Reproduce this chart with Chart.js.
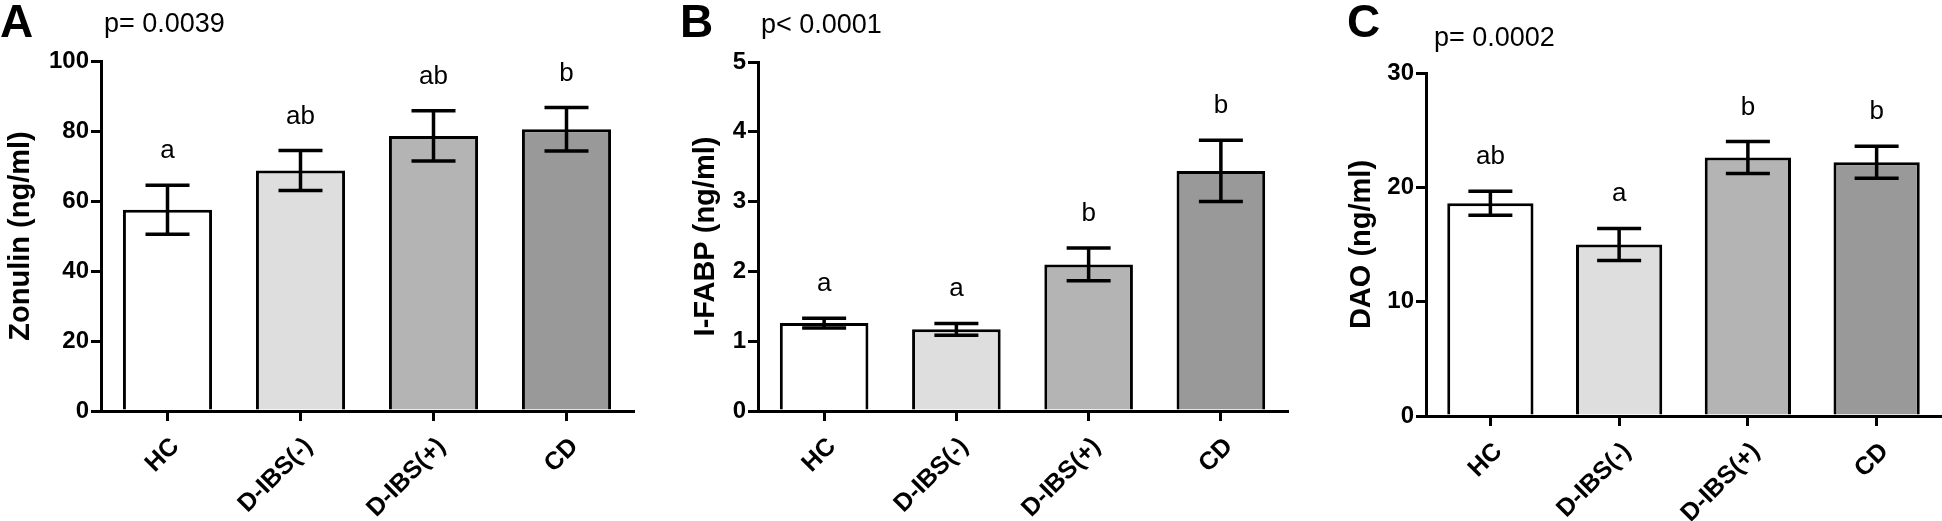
<!DOCTYPE html>
<html>
<head>
<meta charset="utf-8">
<script src="https://cdn.jsdelivr.net/npm/chart.js@4.4.0/dist/chart.umd.min.js"></script>
<style>
  body { margin: 0; background: #fff; }
  #wrap { position: relative; width: 1942px; height: 521px; overflow: hidden; }
  .panel { position: absolute; top: 0; height: 521px; }
</style>
</head>
<body>
<div id="wrap">
  <div class="panel" style="left:0px;width:640px"><canvas id="chartA"></canvas></div>
  <div class="panel" style="left:640px;width:650px"><canvas id="chartB"></canvas></div>
  <div class="panel" style="left:1290px;width:652px"><canvas id="chartC"></canvas></div>
</div>
<script>
var categories = ["HC", "D-IBS(-)", "D-IBS(+)", "CD"];
var barColors = ["#ffffff", "#dedede", "#b4b4b4", "#999999"];

// panel A - zonulin
var zonulinMean = [57.5, 68.7, 78.6, 80.5];
var zonulinSem = [7.0, 5.7, 7.2, 6.2];
var zonulinLetters = ["a", "ab", "ab", "b"];
var zonulinTicks = [0, 20, 40, 60, 80, 100];

// panel B - I-FABP
var ifabpMean = [1.26, 1.17, 2.1, 3.44];
var ifabpSem = [0.07, 0.085, 0.235, 0.44];
var ifabpLetters = ["a", "a", "b", "b"];
var ifabpTicks = [0, 1, 2, 3, 4, 5];

// panel C - DAO
var daoMean = [18.6, 15.0, 22.6, 22.2];
var daoSem = [1.05, 1.4, 1.4, 1.4];
var daoLetters = ["ab", "a", "b", "b"];
var daoTicks = [0, 10, 20, 30];

var FONT = "'Liberation Sans', Arial, sans-serif";

// error bars + group letters + panel letter + p value
var annotPlugin = {
  id: "annot",
  afterDatasetsDraw: function (chart) {
    var o = chart.options.plugins.annot;
    var ctx = chart.ctx;
    var y = chart.scales.y;
    var meta = chart.getDatasetMeta(0);
    ctx.save();
    ctx.strokeStyle = "#000";
    ctx.lineWidth = 3.5;
    ctx.fillStyle = "#000";
    ctx.font = "26px " + FONT;
    ctx.textAlign = "center";
    ctx.textBaseline = "alphabetic";
    meta.data.forEach(function (bar, i) {
      var m = o.mean[i], s = o.sem[i];
      var top = y.getPixelForValue(m + s);
      var bot = y.getPixelForValue(m - s);
      ctx.beginPath();
      ctx.moveTo(bar.x, top);
      ctx.lineTo(bar.x, bot);
      ctx.moveTo(bar.x - 22, top);
      ctx.lineTo(bar.x + 22, top);
      ctx.moveTo(bar.x - 22, bot);
      ctx.lineTo(bar.x + 22, bot);
      ctx.stroke();
      ctx.fillText(o.letters[i], bar.x, top - 27);
    });
    ctx.textAlign = "left";
    ctx.font = "bold 46px " + FONT;
    ctx.fillText(o.panel, o.panelX, 37);
    ctx.font = "27px " + FONT;
    ctx.fillText(o.pText, o.pX, o.pY);
    ctx.restore();
  },
};

function makePanel(id, mean, sem, letters, ticks, yTitle, yWidth, xHeight, pad, panel, panelX, pText, pX, pY) {
  var ctx = document.getElementById(id).getContext("2d");
  return new Chart(ctx, {
    type: "bar",
    data: {
      labels: categories,
      datasets: [
        {
          data: mean,
          backgroundColor: barColors,
          borderColor: "#000",
          borderWidth: 3,
          barPercentage: 0.67,
          categoryPercentage: 1,
        },
      ],
    },
    options: {
      responsive: true,
      maintainAspectRatio: false,
      animation: false,
      layout: { padding: pad },
      plugins: {
        legend: { display: false },
        tooltip: { enabled: false },
        annot: {
          mean: mean, sem: sem, letters: letters,
          panel: panel, panelX: panelX, pText: pText, pX: pX, pY: pY,
        },
      },
      scales: {
        x: {
          offset: true,
          grid: { display: true, drawOnChartArea: false, offset: false, color: "#000", lineWidth: 3, tickLength: 10 },
          border: { display: true, color: "#000", width: 3 },
          ticks: { color: "#000", font: { family: FONT, size: 25, weight: "bold" }, maxRotation: 45, minRotation: 45, autoSkip: false, padding: 11, labelOffset: 8 },
          afterFit: function (s) { s.height = xHeight; },
        },
        y: {
          min: ticks[0],
          max: ticks[ticks.length - 1],
          afterBuildTicks: function (s) { s.ticks = ticks.map(function (v) { return { value: v }; }); },
          grid: { display: true, drawOnChartArea: false, color: "#000", lineWidth: 3, tickLength: 10 },
          border: { display: true, color: "#000", width: 3 },
          ticks: { color: "#000", font: { family: FONT, size: 24, weight: "bold" }, padding: 2 },
          title: { display: true, text: yTitle, color: "#000", font: { family: FONT, size: 29, weight: "bold" } },
          afterFit: function (s) { s.width = yWidth; },
        },
      },
    },
    plugins: [annotPlugin],
  });
}

makePanel("chartA", zonulinMean, zonulinSem, zonulinLetters, zonulinTicks, "Zonulin (ng/ml)",
  101, 110, { left: 0, right: 7, top: 61, bottom: 0 }, "A", 0, "p= 0.0039", 104, 32);
makePanel("chartB", ifabpMean, ifabpSem, ifabpLetters, ifabpTicks, "I-FABP (ng/ml)",
  73, 110, { left: 45, right: 3, top: 62, bottom: 0 }, "B", 40, "p< 0.0001", 121, 33);
makePanel("chartC", daoMean, daoSem, daoLetters, daoTicks, "DAO (ng/ml)",
  85, 105, { left: 51, right: 1, top: 73, bottom: 0 }, "C", 57, "p= 0.0002", 144, 46);
</script>
</body>
</html>
